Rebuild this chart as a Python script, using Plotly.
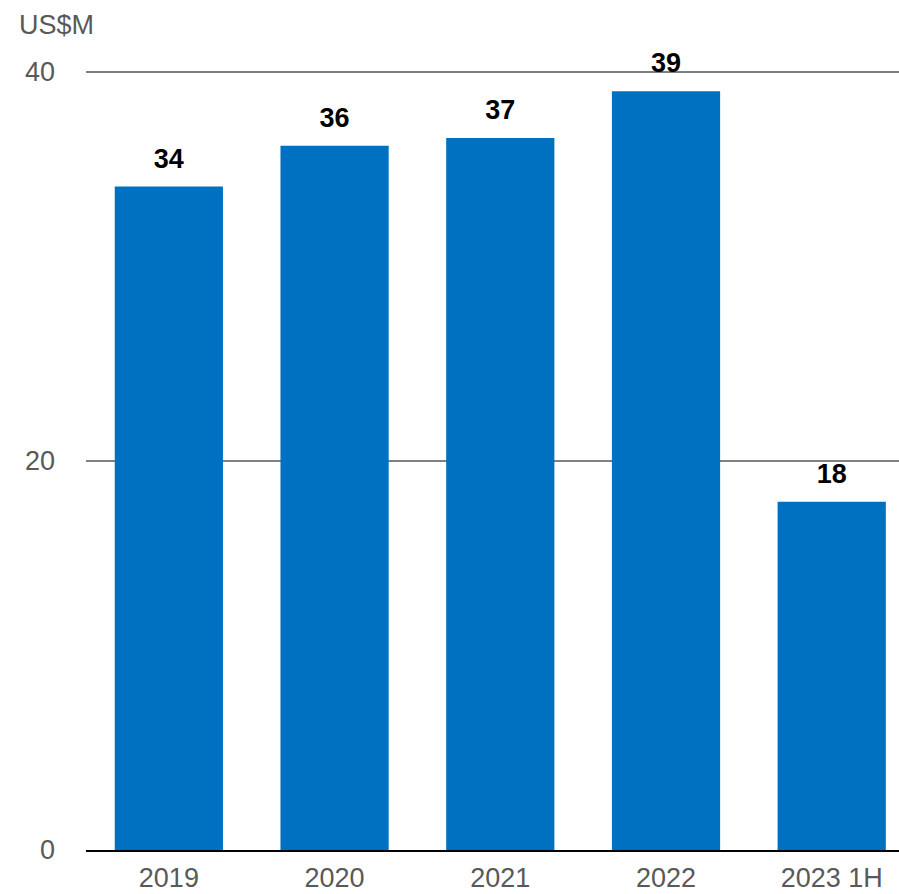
import plotly.graph_objects as go

# Annual figures in US$ millions
categories = ["2019", "2020", "2021", "2022", "2023 1H"]
values = [34.1, 36.2, 36.6, 39.0, 17.9]
y_ticks = [0, 20, 40]

BAR_COLOR = "#0070C0"
FONT = "Liberation Sans, Arial, sans-serif"
W, H = 899, 894
M_L, M_R, M_T, M_B = 86, 0, 62, 44

fig = go.Figure()

fig.add_trace(
    go.Bar(
        x=categories,
        y=values,
        marker=dict(color=BAR_COLOR, line=dict(width=0)),
        hoverinfo="skip",
    )
)

# Value labels above each bar, rounded to whole millions; the transparent
# marker only sets the gap between the bar top and the label
fig.add_trace(
    go.Scatter(
        x=categories,
        y=values,
        mode="markers+text",
        text=[f"{v:.0f}" for v in values],
        textposition="top center",
        textfont=dict(family=FONT, size=27, color="#000000", weight="bold"),
        marker=dict(size=18, opacity=0),
        hoverinfo="skip",
        cliponaxis=False,
    )
)

# Unit caption in the top-left corner
plot_w = W - M_L - M_R
plot_h = H - M_T - M_B
fig.add_annotation(
    x=(17 - M_L) / plot_w, y=1 + (M_T - 25) / plot_h,
    xref="paper", yref="paper",
    text="US$M", showarrow=False,
    xanchor="left", yanchor="middle",
    font=dict(family=FONT, size=27, color="#595959"),
)

fig.update_layout(
    width=W,
    height=H,
    margin=dict(l=M_L, r=M_R, t=M_T, b=M_B),
    paper_bgcolor="#FFFFFF",
    plot_bgcolor="#FFFFFF",
    bargap=0.347,
    showlegend=False,
    font=dict(family=FONT, size=27, color="#595959"),
    xaxis=dict(
        type="category",
        range=[-0.5, 4.406],
        showgrid=False,
        showline=True,
        linecolor="#000000",
        linewidth=2,
        ticks="",
        ticklabelstandoff=3,
        tickfont=dict(family=FONT, size=27, color="#595959"),
        automargin=False,
        fixedrange=True,
    ),
    yaxis=dict(
        range=[0, 40.5],
        tickvals=y_ticks,
        showgrid=True,
        gridcolor="#808080",
        gridwidth=2,
        zeroline=False,
        showline=False,
        ticks="",
        ticklabelstandoff=30,
        tickfont=dict(family=FONT, size=27, color="#595959"),
        automargin=False,
        fixedrange=True,
    ),
)

fig.write_html("out.html")
